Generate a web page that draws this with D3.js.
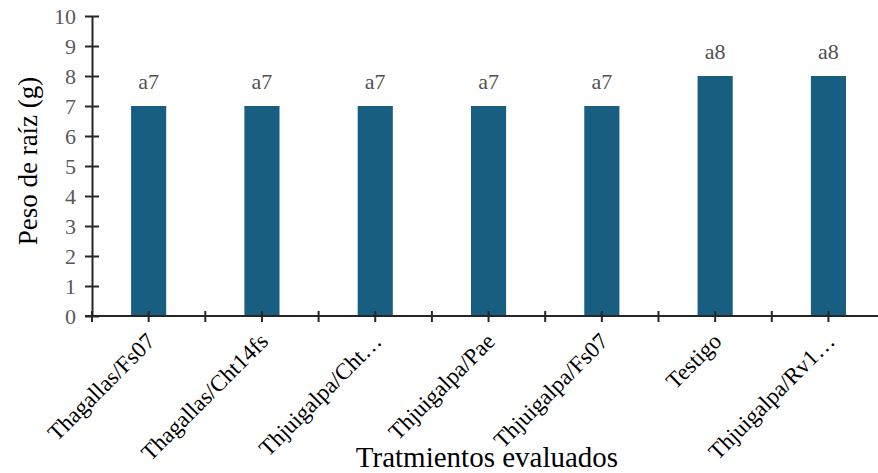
<!DOCTYPE html>
<html>
<head>
<meta charset="utf-8">
<script src="https://cdn.jsdelivr.net/npm/d3@7"></script>
<style>
  html, body { margin: 0; padding: 0; background: #fff; }
  svg { display: block; }
</style>
</head>
<body>
<svg id="chart" width="878" height="473"></svg>
<script>
// Root weight by treatment
const categories = [
  "Thagallas/Fs07",
  "Thagallas/Cht14fs",
  "Thjuigalpa/Cht\u2026",
  "Thjuigalpa/Pae",
  "Thjuigalpa/Fs07",
  "Testigo",
  "Thjuigalpa/Rv1\u2026"
];
const values = [7, 7, 7, 7, 7, 8, 8];
const letters = ["a", "a", "a", "a", "a", "a", "a"];
const yTicks = [0, 1, 2, 3, 4, 5, 6, 7, 8, 9, 10];

const svg = d3.select("#chart");
const W = 878, H = 473;
const m = { left: 92, top: 16, bottom: 157 };
const plotBottom = H - m.bottom;
const font = "'Liberation Serif', 'Times New Roman', serif";

const x = d3.scaleBand().domain(categories).range([m.left, m.left + 7 * 113.3]).paddingInner(0.69).paddingOuter(0.345);
const y = d3.scaleLinear().domain([0, 10]).range([plotBottom, m.top]);

// bars
svg.append("g").selectAll("rect").data(values).join("rect")
  .attr("x", (d, i) => x(categories[i]))
  .attr("y", d => y(d))
  .attr("width", x.bandwidth())
  .attr("height", d => y(0) - y(d))
  .attr("fill", "#175e80");

// value labels
svg.append("g").selectAll("text").data(values).join("text")
  .attr("x", (d, i) => x(categories[i]) + x.bandwidth() / 2)
  .attr("y", d => y(d) - 17)
  .attr("text-anchor", "middle")
  .attr("font-family", font)
  .attr("font-size", 22)
  .attr("fill", "#505050")
  .text((d, i) => letters[i] + d);

// y axis
const yAxis = svg.append("g").attr("transform", `translate(${m.left},0)`)
  .call(d3.axisLeft(y).tickValues(yTicks).tickSize(7).tickSizeOuter(0).tickPadding(9));
yAxis.select(".domain").attr("stroke", "#262626").attr("stroke-width", 2);
yAxis.selectAll(".tick line").attr("x2", 7).attr("x1", -7).attr("stroke", "#262626").attr("stroke-width", 2);
yAxis.selectAll(".tick text").attr("font-family", font).attr("font-size", 22).attr("fill", "#595959");

// x axis line with ticks at category centres and boundaries
const xg = svg.append("g");
xg.append("line").attr("x1", m.left - 7).attr("x2", W).attr("y1", plotBottom).attr("y2", plotBottom)
  .attr("stroke", "#262626").attr("stroke-width", 2);
const step = x.step();
const tickXs = [];
categories.forEach((c, i) => {
  tickXs.push(x(c) + x.bandwidth() / 2);
  tickXs.push(m.left + (i + 1) * step);
});
tickXs.push(m.left);
xg.selectAll("line.t").data(tickXs).join("line").attr("class", "t")
  .attr("x1", d => d).attr("x2", d => d)
  .attr("y1", plotBottom - 5).attr("y2", plotBottom + 6)
  .attr("stroke", "#262626").attr("stroke-width", 2);

// rotated category labels
xg.selectAll("text").data(categories).join("text")
  .attr("transform", d => `translate(${x(d) + x.bandwidth() / 2 + 2},${plotBottom + 21}) rotate(-45)`)
  .attr("text-anchor", "end")
  .attr("dy", "0.35em")
  .attr("font-family", font)
  .attr("font-size", 23)
  .attr("fill", "#000")
  .text(d => d);

// axis titles
svg.append("text")
  .attr("transform", `translate(37,161) rotate(-90)`)
  .attr("text-anchor", "middle")
  .attr("font-family", font)
  .attr("font-size", 27)
  .attr("fill", "#000")
  .text("Peso de raíz (g)");

svg.append("text")
  .attr("x", 487)
  .attr("y", 467)
  .attr("text-anchor", "middle")
  .attr("font-family", font)
  .attr("font-size", 29)
  .attr("fill", "#000")
  .text("Tratmientos evaluados");
</script>
</body>
</html>
